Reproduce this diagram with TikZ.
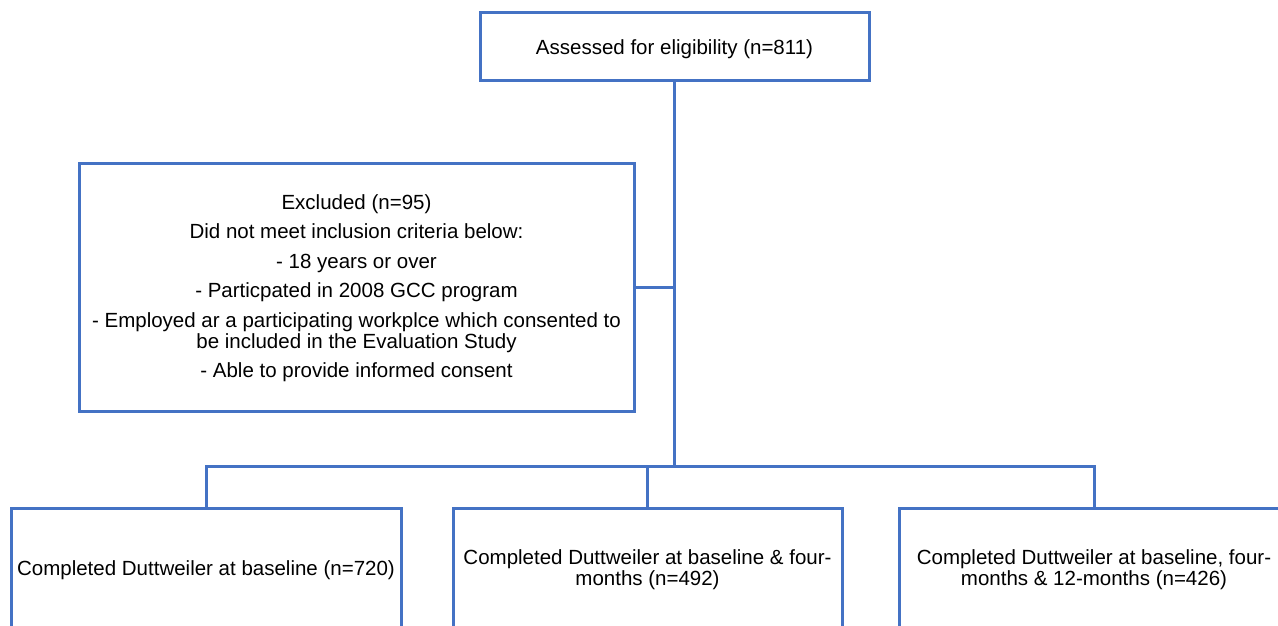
\documentclass[tikz,border=0pt]{standalone}
\usepackage{fontspec}
\setmainfont{Liberation Sans}
\definecolor{boxblue}{HTML}{4472C4}
\begin{document}
\begin{tikzpicture}[x=1pt,y=-1pt,
  every node/.style={font=\fontsize{20.5}{21}\selectfont, align=center, inner sep=0pt},
  fbox/.style={draw=boxblue, line width=3pt, rectangle},
  link/.style={draw=boxblue, line width=3pt}]
\useasboundingbox (0,0) rectangle (1278,626);
\clip (0,0) rectangle (1278,626);
\node[fbox, minimum width=389pt, minimum height=68pt, text depth=-2pt] (top) at (674.5,47) {Assessed for eligibility (n=811)};
\node[fbox, minimum width=555pt, minimum height=248pt] (excl) at (356.5,287) {\\[-4pt]Excluded (n=95)\\[8.5pt]
Did not meet inclusion criteria below:\\[8.5pt]
- 18 years or over\\[8.5pt]
- Particpated in 2008 GCC program\\[8.5pt]
- Employed ar a participating workplce which consented to\\
be included in the Evaluation Study\\[8.5pt]
- Able to provide informed consent};
\node[fbox, minimum width=390pt, minimum height=124pt] (b1) at (206,570) {Completed Duttweiler at baseline (n=720)};
\node[fbox, minimum width=389pt, minimum height=124pt] (b2) at (647.5,570) {Completed Duttweiler at baseline \& four-\\months (n=492)};
\node[fbox, minimum width=390pt, minimum height=124pt] (b3) at (1094,570) {Completed Duttweiler at baseline, four-\\months \& 12-months (n=426)};
\coordinate (j) at (top.south |- 0,466);
\draw[link] (top.south) -- (j);
\draw[link] (excl.east) -- (excl.east -| j);
\draw[link] (b1.north) -- (b1.north |- j) -- (b3.north |- j) -- (b3.north);
\draw[link] (b2.north) -- (b2.north |- j);
\end{tikzpicture}
\end{document}
